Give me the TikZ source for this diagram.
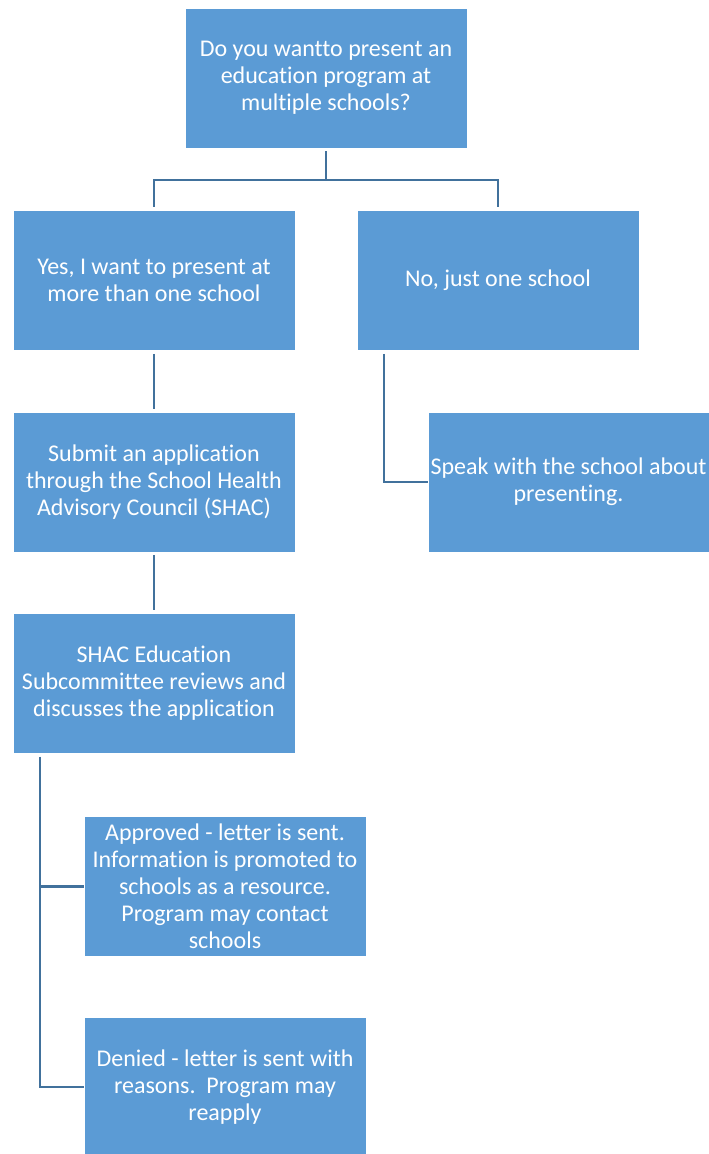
\documentclass[tikz,border=0pt]{standalone}
\usepackage{fontspec}
\setmainfont{Carlito}[Ligatures=NoCommon]
\usetikzlibrary{calc}
\definecolor{boxfill}{HTML}{5B9BD5}
\definecolor{linecol}{HTML}{41719C}
\tikzset{
  flowbox/.style={rectangle, fill=boxfill, draw=white, line width=0.8pt,
    minimum width=282pt, minimum height=140pt, inner sep=0pt,
    text=white, align=center, font=\fontsize{24}{27}\selectfont},
  conn/.style={draw=linecol, line width=2.2pt}
}
\begin{document}
\begin{tikzpicture}[x=1pt,y=-1pt]
\useasboundingbox (0,0) rectangle (709,1154);
\fill[white] (0,0) rectangle (709,1154);
\node[flowbox] (top) at (326,78) {Do you wantto present an\\education program at\\multiple schools?};
\node[flowbox] (yes) at (154,280.5) {Yes, I want to present at\\more than one school};
\node[flowbox] (no) at (498,280.5) {No, just one school};
\node[flowbox] (submit) at (154,482) {Submit an application\\through the School Health\\Advisory Council (SHAC)};
\node[flowbox, minimum width=281pt] (speak) at (568.5,482) {Speak with the school about\\presenting.};
\node[flowbox] (shac) at (154,683.5) {SHAC Education\\Subcommittee reviews and\\discusses the application};
\node[flowbox] (approved) at (225,886.5) {Approved - letter is sent.\\Information is promoted to\\schools as a resource.\\Program may contact\\schools};
\node[flowbox] (denied) at (225,1087) {Denied - letter is sent with\\reasons.\ \ Program may\\reapply};
\coordinate (split) at (326,180);
\draw[conn] ($(top.south)+(0,3)$) -- (split);
\draw[conn] (split) -| ($(yes.north)+(0,-3)$);
\draw[conn] (split) -| ($(no.north)+(0,-3)$);
\draw[conn] ($(yes.south)+(0,3)$) -- ($(submit.north)+(0,-3)$);
\draw[conn] ($(submit.south)+(0,3)$) -- ($(shac.north)+(0,-3)$);
\draw[conn] ($(no.south west)+(27,3)$) |- (speak.west);
\draw[conn] ($(shac.south west)+(27,3)$) |- (approved.west);
\draw[conn] ($(shac.south west)+(27,3)$) |- (denied.west);
\end{tikzpicture}
\end{document}
